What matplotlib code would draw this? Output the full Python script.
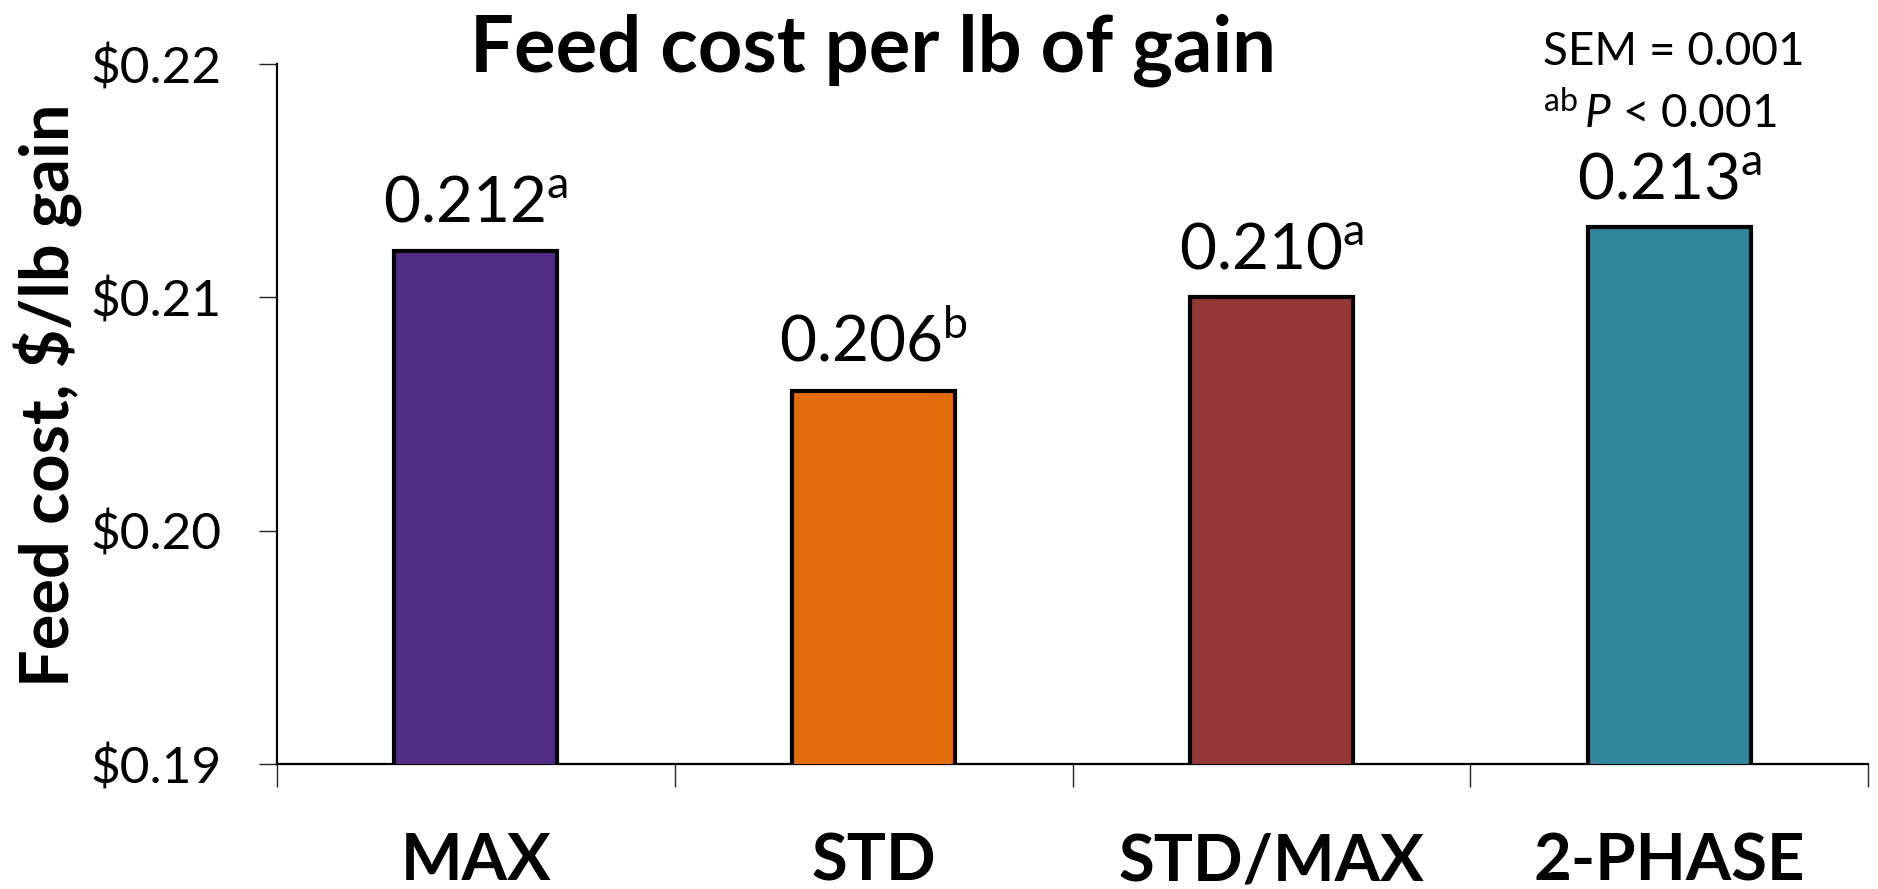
import numpy as np
import matplotlib
matplotlib.use('Agg')
import matplotlib.pyplot as plt

# data
groups = ['MAX', 'STD', 'STD/MAX', '2-PHASE']
cost = [0.212, 0.206, 0.210, 0.213]
letters = ['a', 'b', 'a', 'a']
bar_colors = ['#532C86', '#E36C0A', '#953735', '#31859C']
yticks = [0.19, 0.20, 0.21, 0.22]
ytick_labels = ['$0.19', '$0.20', '$0.21', '$0.22']

plt.rcParams['font.family'] = 'Lato'
plt.rcParams['mathtext.fontset'] = 'custom'
plt.rcParams['mathtext.rm'] = 'Lato'
plt.rcParams['mathtext.it'] = 'Lato:italic'

fig = plt.figure(figsize=(18.78, 8.89), dpi=100)
ax = fig.add_axes([0.1475, 0.1406, 0.8472, 0.7874])

x = np.arange(len(groups))
ax.bar(x, cost, width=0.41, color=bar_colors, edgecolor='black', linewidth=3, zorder=3)

for i in range(len(groups)):
    ax.annotate(f'{cost[i]:.3f}' + r'$^{\mathrm{' + letters[i] + '}}$',
                (x[i], cost[i]), textcoords='offset points', xytext=(0, 21),
                ha='center', va='baseline', fontsize=46)

ax.set_ylim(0.19, 0.22)
ax.set_xlim(-0.5, len(groups) - 0.5)
ax.set_yticks(yticks)
ax.set_yticklabels([s.replace('$', r'\$') for s in ytick_labels], fontsize=37)
ax.tick_params(axis='y', direction='out', length=13, width=1, pad=27, color='#222222')

ax.set_xticks(x)
ax.set_xticklabels(groups, fontsize=47, fontweight='bold')
ax.set_xticks(np.arange(len(groups) + 1) - 0.5, minor=True)
ax.tick_params(axis='x', which='major', length=0, pad=49)
ax.tick_params(axis='x', which='minor', direction='out', length=16.5, width=1, color='#222222')

ax.spines['top'].set_visible(False)
ax.spines['right'].set_visible(False)
ax.spines['left'].set_linewidth(1.6)
ax.spines['bottom'].set_linewidth(1.6)

fig.text(0.465, 0.919, 'Feed cost per lb of gain', ha='center', va='baseline',
         fontsize=56, fontweight='bold')
fig.text(0.0256, 0.5557, r'Feed cost, \$/lb gain', rotation=90, ha='center', va='center',
         fontsize=48, fontweight='bold')
fig.text(0.8216, 0.9269, 'SEM = 0.001', ha='left', va='baseline', fontsize=33)
fig.text(0.8216, 0.856, r'$^{\mathrm{ab}}\,\mathit{P}$ < 0.001', ha='left', va='baseline', fontsize=33)

fig.savefig('out.png', dpi=100)
